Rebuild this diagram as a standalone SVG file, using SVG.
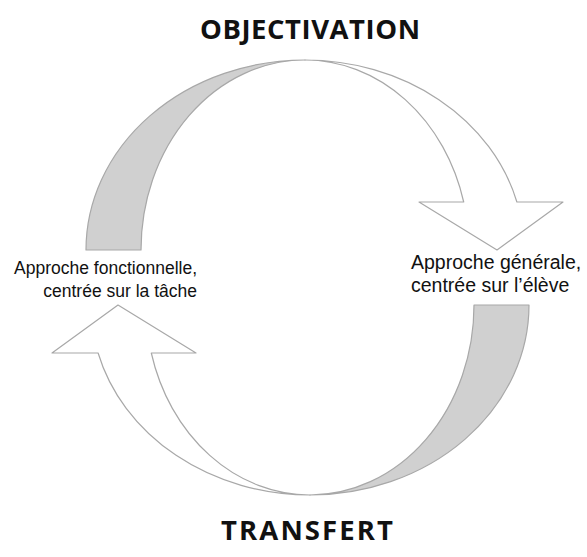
<svg xmlns="http://www.w3.org/2000/svg" width="587" height="557" viewBox="0 0 587 557">
<style>
.shade{fill:#d0d0d0;stroke:#a8a8a8;stroke-width:1.2;stroke-linejoin:round}
.body{fill:#ffffff;stroke:#a8a8a8;stroke-width:1.2;stroke-linejoin:round}
.title{font-family:"Open Sans","Noto Sans",sans-serif;font-weight:bold;font-size:27.5px;fill:#111;text-anchor:middle}
.lbl{font-family:"Liberation Sans",Arial,sans-serif;fill:#111}
</style>
<rect width="587" height="557" fill="#fff"/>
<g id="connectors">
<g id="arrow-top">
<path class="shade" d="M86,250 A219,190 0 0 1 305,60 A164,190 0 0 0 141,250 Z"/>
<path class="body" d="M305,60 A219,190 0 0 1 516.9,202 L563,202 L497,250 L419,202 L463.7,202 A164,190 0 0 0 305,60 Z"/>
</g>
<g id="arrow-bottom" transform="rotate(180 307.5 277.5)">
<path class="shade" d="M86,250 A219,190 0 0 1 305,60 A164,190 0 0 0 141,250 Z"/>
<path class="body" d="M305,60 A219,190 0 0 1 516.9,202 L563,202 L497,250 L419,202 L463.7,202 A164,190 0 0 0 305,60 Z"/>
</g>
</g>
<g id="objectivation"><text class="title" x="310" y="39" textLength="220" lengthAdjust="spacing">OBJECTIVATION</text></g>
<g id="transfert"><text class="title" x="307" y="540" textLength="172" lengthAdjust="spacing">TRANSFERT</text></g>
<g id="left-label" font-size="17.5">
<text class="lbl" text-anchor="end" x="197" y="274">Approche fonctionnelle,</text>
<text class="lbl" text-anchor="end" x="197" y="297">centrée sur la tâche</text>
</g>
<g id="right-label" font-size="19.5">
<text class="lbl" x="411" y="269">Approche générale,</text>
<text class="lbl" x="411" y="292">centrée sur l’élève</text>
</g>
</svg>
